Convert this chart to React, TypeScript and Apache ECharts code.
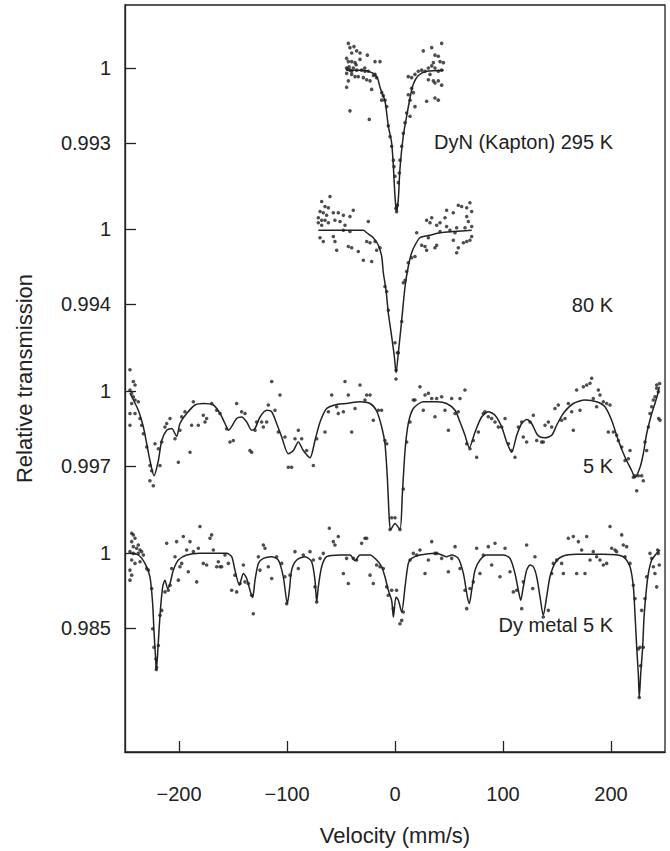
import React, { useEffect, useRef } from 'react';
import * as echarts from 'echarts';

// ---------------- data ----------------
const xTicks = [-200, -100, 0, 100, 200];
const yTicks295 = [0.993, 1];
const yTicks80 = [0.994, 1];
const yTicks5 = [0.997, 1];
const yTicksMetal = [0.985, 1];
const spectrumLabels = ['DyN (Kapton) 295 K', '80 K', '5 K', 'Dy metal 5 K'];

// DyN (Kapton) 295 K
const dyn295Points = [
  [-43.2, 1.0023], [-41.7, 1.0019], [-38.0, 1.002], [-40.1, 1.0014], [-35.5, 1.0016], [-32.4, 1.0014], [-25.6, 1.0012],
  [-44.8, 1.0009], [-43.2, 1.0006], [-40.1, 1.0006], [-37.0, 1.0005], [-32.4, 1.0008], [-18.5, 1.0006], [-13.9, 1.0006],
  [-44.8, 1.0], [-41.7, 0.9998], [-38.6, 1.0], [-40.1, 0.9997], [-35.5, 0.9998], [-30.9, 0.9998], [-27.8, 0.9997],
  [-24.7, 0.9997], [-44.8, 0.9995], [-40.1, 0.9994], [-37.0, 0.9992], [-34.0, 0.9992], [-29.3, 0.9991], [-26.2, 0.9989],
  [-23.1, 0.9988], [-18.5, 0.9994], [-17.0, 0.9991], [-43.2, 0.9988], [-44.8, 0.9982], [-21.6, 0.998], [-12.3, 0.9977],
  [-10.8, 0.9974], [-9.3, 0.997], [-12.3, 0.997], [-7.7, 0.9964], [-41.7, 0.996], [-23.8, 0.9952], [-6.2, 0.9946],
  [-4.6, 0.9936], [-3.1, 0.9927], [-1.5, 0.9914], [-0.9, 0.9908], [0, 0.9899], [0.8, 0.9869], [1.5, 0.9866], [2.2, 0.9872],
  [-44.0, 0.9999], [-42.5, 1.0001], [-36.0, 1.0003], [-28.0, 1.0], [-20.0, 0.9993],
  [12.3, 0.9992], [15.4, 0.9991], [18.5, 0.9994], [21.6, 0.9997], [24.7, 0.9998], [27.8, 0.9997], [30.9, 1.0],
  [34.0, 1.0002], [37.0, 1.0], [40.1, 0.9997], [43.2, 0.9998], [26.2, 1.0016], [34.0, 1.0019], [43.2, 1.0023],
  [37.0, 1.0012], [40.1, 1.0011], [41.7, 1.0006], [44.8, 1.0005], [35.5, 1.0005], [30.9, 0.9989], [37.0, 0.9986],
  [40.1, 0.9988], [43.2, 0.9984], [35.5, 0.9988], [32.4, 0.9994], [15.4, 0.9981], [17.0, 0.9977], [12.3, 0.9975],
  [13.9, 0.997], [18.5, 0.9964], [29.3, 0.9969], [37.0, 0.9972], [40.1, 0.997], [10.8, 0.9958], [13.9, 0.9955],
  [9.3, 0.9949], [7.7, 0.9939], [6.2, 0.9927], [4.6, 0.9914], [4.0, 0.9902], [3.1, 0.9893],
];
const dyn295Fit = [
  [-45, 0.9998], [-30, 0.9998], [-20, 0.9995], [-16, 0.999], [-13.9, 0.9982], [-9.3, 0.9969], [-6.2, 0.9946],
  [-3.1, 0.993], [-1.5, 0.9908], [0, 0.988], [1.5, 0.9866], [3.1, 0.9878], [4.6, 0.9906], [7.7, 0.9937],
  [10.8, 0.9955], [13.9, 0.9972], [17, 0.9985], [21.6, 0.9993], [29.3, 0.9997], [45, 0.9998],
];

// DyN 80 K
const dyn80Points = [
  [-60.2, 1.0026], [-67.9, 1.0022], [-64.8, 1.0018], [-61.7, 1.0017], [-69.4, 1.0014], [-66.4, 1.0013], [-63.3, 1.0011],
  [-71.0, 1.0009], [-67.9, 1.0007], [-64.8, 1.0007], [-57.1, 1.0013], [-52.5, 1.0013], [-47.8, 1.0011], [-41.7, 1.001],
  [-38.6, 1.0015], [-71.0, 1.0005], [-67.9, 1.0003], [-61.7, 1.0005], [-55.6, 1.0007], [-50.9, 1.0006], [-46.3, 1.0003],
  [-47.8, 0.9999], [-41.7, 0.9998], [-24.7, 1.0006], [-69.4, 0.9993], [-66.4, 0.999], [-57.1, 0.9994], [-55.6, 0.999],
  [-43.2, 0.9986], [-40.1, 0.9985], [-54.0, 0.9983], [-34.0, 0.9982], [-29.3, 0.9975], [-21.6, 0.9974], [-26.2, 0.999],
  [-23.1, 0.9989], [-18.5, 0.999], [-17.0, 0.9983], [-13.9, 0.9985], [-9.3, 0.9954], [-7.7, 0.995], [-6.2, 0.9935],
  [0, 0.9909], [2.2, 0.9901], [1.0, 0.9887],
  [20.1, 0.9997], [29.3, 1.0007], [34.0, 1.0009], [32.4, 1.0005], [38.6, 1.0003], [41.7, 1.0005], [46.3, 1.0009],
  [47.8, 1.0015], [54.0, 1.0013], [58.6, 1.0019], [61.7, 1.0018], [66.4, 1.0017], [69.4, 1.0021], [71.0, 1.0014],
  [66.4, 1.001], [67.9, 1.0006], [71.0, 1.0002], [64.8, 1.0001], [57.1, 1.0001], [50.9, 0.9999], [55.6, 0.9997],
  [47.8, 1.0002], [41.7, 0.9998], [71.0, 0.9994], [69.4, 0.9991], [66.4, 0.999], [63.3, 0.9989], [58.6, 0.9985],
  [57.1, 0.9981], [54.0, 0.9991], [38.6, 0.9987], [37.0, 0.9985], [30.9, 0.9993], [27.8, 0.9986], [29.3, 0.9983],
  [24.7, 0.9987], [18.5, 0.9978], [15.4, 0.9977], [12.3, 0.9973], [10.8, 0.9966], [9.3, 0.9959], [7.7, 0.9957],
  [6.2, 0.9926], [3.1, 0.9901],
];
const dyn80Fit = [
  [-71, 0.9999], [-50, 0.9999], [-29.3, 0.9999], [-26.2, 0.9997], [-20.1, 0.9993], [-15.4, 0.9987], [-12.3, 0.9978],
  [-10.8, 0.9965], [-8.3, 0.9951], [-6.2, 0.9933], [-3.1, 0.9914], [-0.6, 0.9898], [1.0, 0.9885], [3.1, 0.9901],
  [6.2, 0.9927], [9.3, 0.9954], [12.3, 0.997], [15.4, 0.9981], [18.5, 0.9987], [23.1, 0.9993], [32.4, 0.9995],
  [41.7, 0.9997], [54.0, 0.9998], [71.0, 0.9999],
];

// DyN 5 K
const dyn5Points = [
  [-245.4, 1.00085], [-242.3, 1.00038], [-240.7, 1.00024], [-245.4, 1.00004], [-243.8, 0.99991], [-242.3, 0.99977],
  [-240.7, 0.99964], [-237.7, 0.99957], [-243.8, 0.9995], [-245.4, 0.9991], [-240.7, 0.9991], [-236.1, 0.9989],
  [-245.4, 0.99863], [-234.6, 0.99863], [-233.0, 0.99829], [-229.9, 0.99776], [-226.9, 0.99702], [-225.3, 0.99681],
  [-226.9, 0.99641], [-223.8, 0.99621], [-222.2, 0.99789], [-219.1, 0.99769], [-217.6, 0.99702], [-216.0, 0.99796],
  [-213.0, 0.99856], [-211.4, 0.9987], [-208.3, 0.9989], [-203.7, 0.99809], [-200.6, 0.99715], [-199.1, 0.99843],
  [-197.5, 0.99897], [-194.5, 0.99917], [-189.8, 0.99755], [-188.3, 0.99863], [-186.7, 0.99957], [-182.1, 0.99863],
  [-177.5, 0.99903], [-175.9, 0.99876], [-174.4, 0.9989], [-169.7, 0.9995], [-165.1, 0.99923], [-162.0, 0.9991],
  [-155.9, 0.99849], [-152.8, 0.99796], [-149.7, 0.99802], [-146.6, 0.9995], [-142.0, 0.99917], [-138.9, 0.9991],
  [-134.3, 0.99762], [-132.7, 0.99755], [-129.6, 0.99843], [-128.1, 0.99876], [-123.5, 0.99876], [-121.9, 0.99856],
  [-118.8, 0.99876], [-117.3, 0.99944], [-114.2, 1.00038], [-111.1, 0.99923], [-108.0, 0.99836], [-106.5, 0.99984],
  [-101.9, 0.99816], [-98.8, 0.99695], [-95.7, 0.99695], [-92.6, 0.99809], [-89.5, 0.99843], [-86.4, 0.99809],
  [-81.8, 0.99762], [-75.6, 0.99702], [-72.5, 0.99809], [-64.8, 0.99836], [-61.7, 0.99917], [-58.6, 0.99984],
  [-54.0, 0.99937], [-52.5, 0.9991], [-47.8, 0.99917], [-46.3, 1.00038], [-43.2, 0.99984], [-40.1, 0.99836],
  [-37.0, 0.9993], [-32.4, 1.00024], [-27.8, 0.99964], [-26.2, 0.99984], [-23.1, 0.99984], [-20.1, 0.99883],
  [-15.4, 0.99923], [-12.4, 0.99923], [-9.3, 0.99802], [-7.7, 0.99789], [-4.6, 0.99446], [-3.1, 0.99493],
  [0.0, 0.99493], [0.9, 1.00048], [4.6, 0.99446], [7.7, 0.99608], [10.8, 0.99796], [13.9, 0.99876], [17.0, 0.99964],
  [18.5, 0.99964], [23.1, 1.00017], [26.2, 0.99923], [27.8, 0.99984], [30.9, 0.99991], [34.0, 0.9997], [37.0, 0.99897],
  [38.6, 0.9997], [43.2, 0.99977], [46.3, 0.99923], [49.4, 0.99843], [52.5, 0.9997], [55.6, 0.9991], [58.6, 0.99917],
  [60.2, 0.9997], [64.8, 1.00004], [66.4, 0.99789], [69.4, 0.99769], [72.5, 0.99802], [75.6, 0.99735], [77.2, 0.99836],
  [81.8, 0.9991], [83.3, 0.99917], [86.4, 0.99897], [89.5, 0.9989], [92.6, 0.99876], [95.7, 0.99856], [98.8, 0.99856],
  [101.9, 0.9989], [105.0, 0.99789], [108.0, 0.99762], [111.1, 0.99735], [114.2, 0.99856], [117.3, 0.99876],
  [118.8, 0.99816], [121.9, 0.99796], [125.0, 0.99876], [128.1, 0.99903], [131.2, 0.99802], [135.8, 0.99796],
  [137.3, 0.99796], [138.9, 0.99863], [142.0, 0.99876], [145.1, 0.99856], [148.1, 0.9993], [151.2, 0.99944],
  [154.3, 0.99883], [157.4, 0.9989], [160.5, 0.9995], [163.6, 0.99917], [165.1, 0.99843], [168.2, 1.00004],
  [171.3, 0.99923], [174.4, 1.00017], [177.5, 1.00024], [180.6, 1.00031], [182.1, 1.00051], [183.6, 0.9997],
  [186.7, 0.99937], [188.3, 1.00004], [189.8, 0.99984], [192.9, 0.99957], [196.0, 0.9995], [197.5, 0.99836],
  [199.1, 0.99944], [202.2, 0.99836], [205.2, 0.99823], [206.8, 0.99802], [209.9, 0.99776], [213.0, 0.99722],
  [216.0, 0.99729], [217.6, 0.99762], [220.7, 0.99655], [222.2, 0.99661], [223.8, 0.99601], [225.3, 0.99661],
  [228.4, 0.99661], [229.9, 0.99641], [231.5, 0.99796], [233.0, 0.99762], [234.6, 0.99856], [236.1, 0.9991],
  [237.7, 0.99937], [239.2, 0.99964], [240.7, 0.99977], [242.3, 1.00011], [243.8, 0.99997], [244.1, 0.9989],
  [245.4, 0.99883], [242.3, 1.00024], [245.0, 1.0003],
];
const dyn5Fit = [
  [-245.4, 0.99991], [-237.7, 0.99923], [-233.0, 0.99856], [-229.9, 0.99789], [-226.9, 0.99722], [-223.1, 0.99661],
  [-219.1, 0.99722], [-216.0, 0.99802], [-211.4, 0.99843], [-206.8, 0.9985], [-202.2, 0.99819], [-199.1, 0.9987],
  [-192.9, 0.9991], [-185.2, 0.99944], [-177.5, 0.9995], [-168.2, 0.99944], [-162.0, 0.9991], [-155.9, 0.99856],
  [-154.3, 0.99843], [-146.6, 0.9989], [-142.0, 0.99896], [-137.3, 0.99876], [-132.7, 0.99843], [-129.6, 0.9985],
  [-125.0, 0.99896], [-118.8, 0.99923], [-114.2, 0.99917], [-109.6, 0.9987], [-104.9, 0.99816], [-98.8, 0.99749],
  [-94.1, 0.99762], [-89.5, 0.99796], [-84.9, 0.99762], [-78.7, 0.99733], [-74.1, 0.99802], [-69.4, 0.99876],
  [-63.3, 0.9993], [-54.0, 0.99946], [-44.8, 0.9995], [-32.4, 0.99957], [-23.1, 0.9995], [-17.0, 0.9992],
  [-12.3, 0.99856], [-9.3, 0.99789], [-7.1, 0.99654], [-5.2, 0.9948], [-4.0, 0.99446], [0.0, 0.9947],
  [4.6, 0.99446], [6.8, 0.99587], [9.3, 0.99762], [12.3, 0.9987], [17.0, 0.9993], [26.2, 0.99957], [38.6, 0.99957],
  [47.8, 0.9995], [55.6, 0.99923], [60.2, 0.99876], [64.8, 0.99823], [68.8, 0.99773], [74.1, 0.99836], [80.2, 0.99896],
  [86.4, 0.99917], [92.6, 0.99903], [98.8, 0.99856], [103.4, 0.99796], [108.0, 0.99755], [112.7, 0.99823],
  [117.3, 0.9987], [121.9, 0.99886], [126.5, 0.9987], [131.2, 0.99829], [134.3, 0.99816], [138.9, 0.99813],
  [145.1, 0.99823], [149.7, 0.99863], [155.8, 0.9991], [165.1, 0.9995], [175.9, 0.99964], [186.7, 0.99957],
  [194.4, 0.99937], [200.6, 0.99883], [206.8, 0.99802], [213.0, 0.99735], [219.2, 0.99681], [222.2, 0.99654],
  [226.9, 0.99695], [229.9, 0.99749], [233.0, 0.99829], [237.7, 0.9991], [240.7, 0.9995], [243.8, 0.99997],
  [244.7, 1.00017],
];

// Dy metal 5 K
const dyMetalPoints = [
  [-243.8, 1.00396], [-242.3, 1.00362], [-240.7, 1.00295], [-243.8, 1.00228], [-237.7, 1.00161], [-242.3, 1.00127],
  [-239.2, 1.00094], [-236.1, 1.0006], [-234.6, 1.00027], [-245.4, 1.00027], [-242.3, 0.99993], [-237.7, 0.99993],
  [-233.0, 0.9996], [-243.8, 0.99859], [-240.7, 0.99792], [-236.1, 0.99826], [-245.4, 0.99658], [-243.8, 0.99557],
  [-245.4, 0.99457], [-229.9, 0.99691], [-228.4, 0.99658], [-225.3, 0.99289], [-224.4, 0.98484], [-223.2, 0.98115],
  [-221.3, 0.97881], [-220.7, 0.97713], [-221.0, 0.9767], [-219.1, 0.98149], [-217.6, 0.98753], [-216.0, 0.98853],
  [-213.0, 0.99222], [-209.9, 0.99256], [-208.3, 0.99356], [-211.4, 1.00195], [-206.8, 0.99691], [-203.7, 0.99926],
  [-202.2, 1.00228], [-200.6, 0.99457], [-197.5, 0.99792], [-199.1, 0.99725], [-196.0, 1.00329], [-192.9, 1.0006],
  [-191.4, 0.99624], [-189.8, 1.00228], [-186.7, 1.00027], [-183.6, 0.99423], [-182.1, 1.00094], [-180.6, 1.0053],
  [-177.5, 0.99792], [-174.4, 0.99759], [-171.3, 1.00295], [-169.8, 1.00362], [-168.2, 1.0006], [-165.1, 0.99725],
  [-162.0, 0.99725], [-163.6, 0.99826], [-160.5, 0.99725], [-157.4, 0.9996], [-154.3, 0.99792], [-151.2, 0.99256],
  [-148.2, 0.99557], [-146.6, 0.99222], [-143.5, 0.9939], [-140.4, 0.99759], [-138.9, 0.99423], [-135.8, 0.9939],
  [-132.7, 0.99155], [-131.2, 0.98786], [-126.5, 0.99926], [-125.0, 0.99658], [-121.9, 1.00161], [-120.4, 1.00094],
  [-117.3, 0.99725], [-114.2, 0.9949], [-109.6, 0.99926], [-104.9, 0.99792], [-101.9, 0.99524], [-100.3, 0.98987],
  [-97.2, 0.99557], [-92.6, 1.00027], [-89.5, 0.99691], [-84.9, 0.9996], [-78.7, 1.00027], [-75.6, 0.99859],
  [-74.1, 0.99323], [-72.5, 0.99021], [-69.4, 0.99893], [-66.4, 0.99993], [-60.8, 1.00496], [-57.1, 1.00228],
  [-55.6, 1.00161], [-52.5, 1.00329], [-47.8, 0.99591], [-44.8, 0.99893], [-43.2, 0.9939], [-38.6, 0.99893],
  [-35.5, 0.99859], [-30.9, 1.00195], [-27.8, 1.00295], [-26.2, 1.00295], [-23.1, 0.99557], [-20.1, 0.9939],
  [-17.0, 0.99759], [-13.9, 0.99725], [-10.8, 0.99691], [-7.7, 0.99323], [-6.2, 0.99155], [-3.1, 0.99256],
  [-1.5, 0.98887], [1.5, 0.99256], [4.6, 0.98585], [6.2, 0.98652], [7.7, 0.9882], [13.9, 0.99859], [17.0, 0.99993],
  [20.1, 0.9996], [23.1, 1.0006], [27.8, 0.99591], [30.9, 0.99859], [34.0, 1.00228], [37.0, 0.99993], [38.6, 0.99993],
  [43.2, 0.99893], [49.4, 0.99624], [52.5, 0.99893], [55.6, 1.00127], [60.2, 0.99691], [64.8, 0.99256],
  [66.4, 0.98887], [69.4, 0.99289], [72.5, 0.99423], [75.6, 1.00094], [78.7, 0.99591], [81.8, 0.9996],
  [86.4, 1.00127], [89.5, 0.99759], [92.6, 1.00195], [97.2, 0.99524], [101.9, 1.00094], [106.5, 0.99624],
  [109.6, 0.99222], [112.7, 0.99256], [117.3, 0.98887], [118.8, 0.99423], [121.9, 1.00161], [127.5, 0.99289],
  [129.6, 0.99926], [137.3, 0.98719], [142.0, 0.98853], [145.1, 0.99591], [146.6, 0.99792], [149.7, 0.99859],
  [154.3, 0.99792], [155.9, 0.99591], [160.5, 1.00295], [165.1, 1.00329], [168.2, 0.99591], [169.8, 1.00228],
  [172.8, 1.0006], [175.9, 0.99591], [177.5, 1.00329], [180.6, 0.99859], [183.6, 1.00027], [186.7, 0.99926],
  [189.8, 0.99859], [192.9, 0.99759], [196.0, 0.99792], [199.1, 1.0053], [200.6, 1.00094], [203.7, 1.0006],
  [205.2, 1.00027], [209.9, 1.00362], [211.4, 1.00161], [213.0, 0.99926], [214.5, 1.00127], [217.6, 0.99792],
  [220.7, 0.99356], [222.2, 0.99088], [225.3, 0.98082], [226.9, 0.98115], [227.5, 0.97746], [226.2, 0.9711],
  [228.4, 0.98853], [229.9, 0.98115], [231.5, 0.99088], [233.0, 0.99524], [236.1, 0.99993], [237.7, 0.99893],
  [239.2, 0.99725], [240.7, 0.99591], [242.3, 0.99323], [243.8, 0.99993], [243.2, 1.0006], [244.7, 0.99759],
];
const dyMetalFit = [
  [-245.4, 0.99993], [-237.7, 0.9996], [-231.5, 0.99792], [-226.9, 0.99524], [-224.4, 0.98987], [-223.2, 0.98451],
  [-221.9, 0.97981], [-221.0, 0.9766], [-219.8, 0.97981], [-218.5, 0.98451], [-217.0, 0.9892], [-215.1, 0.99323],
  [-213.0, 0.99457], [-210.5, 0.99289], [-208.3, 0.9939], [-205.2, 0.99658], [-200.6, 0.99859], [-192.9, 0.9996],
  [-180.6, 0.99993], [-155.9, 0.99993], [-151.2, 0.99926], [-148.2, 0.99658], [-144.1, 0.99356], [-140.4, 0.99591],
  [-137.3, 0.9949], [-134.3, 0.99256], [-131.8, 0.99108], [-129.6, 0.99457], [-126.5, 0.99792], [-121.9, 0.99893],
  [-114.2, 0.99926], [-108.0, 0.99859], [-103.4, 0.99524], [-99.7, 0.98987], [-97.8, 0.99256], [-95.7, 0.99658],
  [-91.0, 0.99859], [-83.3, 0.99926], [-77.2, 0.99826], [-74.1, 0.99457], [-72.5, 0.99021], [-71.0, 0.99323],
  [-67.9, 0.99725], [-63.3, 0.99926], [-50.9, 0.9996], [-41.7, 0.9996], [-37.0, 0.99846], [-32.4, 0.9996],
  [-23.1, 0.9996], [-17.0, 0.99859], [-12.4, 0.99725], [-9.3, 0.99524], [-6.2, 0.99256], [-3.1, 0.99054],
  [-1.5, 0.98719], [0.9, 0.99121], [3.1, 0.99054], [6.2, 0.9882], [9.3, 0.99323], [12.3, 0.99792], [15.4, 0.99893],
  [23.1, 0.9996], [38.6, 0.99993], [47.8, 0.99926], [52.5, 0.9996], [58.6, 0.99893], [63.3, 0.99591], [67.0, 0.99121],
  [68.8, 0.98987], [71.0, 0.99256], [74.1, 0.99658], [78.7, 0.99859], [84.9, 0.9996], [100.3, 0.9996], [106.5, 0.99893],
  [111.1, 0.99591], [114.2, 0.99256], [116.4, 0.99054], [118.8, 0.99323], [121.9, 0.99658], [125.0, 0.99759],
  [128.1, 0.99725], [131.2, 0.99524], [134.3, 0.99121], [137.3, 0.98753], [140.4, 0.99121], [143.5, 0.99524],
  [148.1, 0.99792], [154.3, 0.99926], [168.2, 0.99973], [192.9, 0.99973], [211.4, 0.99926], [217.6, 0.99725],
  [220.7, 0.99323], [222.2, 0.98786], [223.8, 0.98115], [225.3, 0.97579], [226.2, 0.97109], [227.5, 0.97579],
  [229.3, 0.98115], [230.6, 0.98719], [232.4, 0.99188], [234.6, 0.99591], [237.7, 0.99859], [242.3, 0.99993],
  [245.4, 1.0006],
];

// ---------------- layout / style ----------------
const FONT = "'Liberation Sans', Arial, Helvetica, sans-serif";
const INK = '#222';
const PLOT_LEFT = 125;
const PLOT_RIGHT = 5;
const PANEL_HEIGHT = 75;

const panels = [
  { ticks: yTicks295, points: dyn295Points, fit: dyn295Fit, top: 68, label: spectrumLabels[0], labelY: 142 },
  { ticks: yTicks80, points: dyn80Points, fit: dyn80Fit, top: 229, label: spectrumLabels[1], labelY: 305 },
  { ticks: yTicks5, points: dyn5Points, fit: dyn5Fit, top: 391, label: spectrumLabels[2], labelY: 466 },
  { ticks: yTicksMetal, points: dyMetalPoints, fit: dyMetalFit, top: 553, label: spectrumLabels[3], labelY: 625 },
];

export default function App() {
  const ref = useRef<HTMLDivElement>(null);

  useEffect(() => {
    document.body.style.margin = '0';
    if (!ref.current) return;
    const chart = echarts.init(ref.current, null, { renderer: 'svg' });

    const grid: any[] = [
      {
        left: PLOT_LEFT, right: PLOT_RIGHT, top: 5, bottom: 99,
        show: true, borderColor: INK, borderWidth: 1.3, backgroundColor: 'transparent',
      },
      ...panels.map((p) => ({ left: PLOT_LEFT, right: PLOT_RIGHT, top: p.top, height: PANEL_HEIGHT })),
    ];

    const xAxis: any[] = [
      {
        gridIndex: 0, type: 'value', min: -250, max: 250,
        axisLine: { show: true, onZero: false, lineStyle: { color: INK, width: 1.3 } },
        axisTick: { show: true, inside: true, length: 11, customValues: xTicks, lineStyle: { color: INK, width: 1.3 } },
        axisLabel: {
          customValues: xTicks, margin: 32, fontSize: 20, color: INK, fontFamily: FONT,
          formatter: (v: number) => String(v).replace('-', '\u2212'),
        },
        splitLine: { show: false },
        name: 'Velocity (mm/s)', nameLocation: 'middle', nameGap: 72,
        nameTextStyle: { fontSize: 22, color: INK, fontFamily: FONT },
      },
      ...panels.map((_, i) => ({ gridIndex: i + 1, type: 'value', min: -250, max: 250, show: false })),
    ];

    const yAxis: any[] = [
      {
        gridIndex: 0, type: 'value', min: 0, max: 1, position: 'left',
        axisLine: { show: true, onZero: false, lineStyle: { color: INK, width: 1.3 } },
        axisTick: { show: false }, axisLabel: { show: false }, splitLine: { show: false },
        name: 'Relative transmission', nameLocation: 'middle', nameGap: 90,
        nameTextStyle: { fontSize: 22, color: INK, fontFamily: FONT },
      },
      ...panels.map((p, i) => ({
        gridIndex: i + 1, type: 'value', min: p.ticks[0], max: p.ticks[1], position: 'left',
        axisLine: { show: false, onZero: false },
        axisTick: { show: true, inside: true, length: 11, customValues: p.ticks, lineStyle: { color: INK, width: 1.3 } },
        axisLabel: {
          customValues: p.ticks, margin: 14, fontSize: 20, color: INK, fontFamily: FONT,
          formatter: (v: number) => (v === 1 ? '1' : String(v)),
        },
        splitLine: { show: false },
      })),
    ];

    const series: any[] = [];
    panels.forEach((p, i) => {
      series.push({
        type: 'scatter', xAxisIndex: i + 1, yAxisIndex: i + 1, data: p.points,
        symbol: 'circle', symbolSize: 3.6, itemStyle: { color: INK }, clip: false, silent: true,
      });
      series.push({
        type: 'line', xAxisIndex: i + 1, yAxisIndex: i + 1, data: p.fit,
        showSymbol: false, smooth: 0.25, lineStyle: { color: INK, width: 1.5 }, clip: false, silent: true,
      });
    });

    const graphic: any[] = panels.map((p) => ({
      type: 'text', x: 613, y: p.labelY, silent: true,
      style: { text: p.label, align: 'right', verticalAlign: 'middle', fontSize: 20, fontFamily: FONT, fill: INK },
    }));

    chart.setOption({
      animation: false,
      backgroundColor: '#fff',
      grid, xAxis, yAxis, series, graphic,
    });

    return () => chart.dispose();
  }, []);

  return <div ref={ref} style={{ width: 670, height: 851 }} />;
}
